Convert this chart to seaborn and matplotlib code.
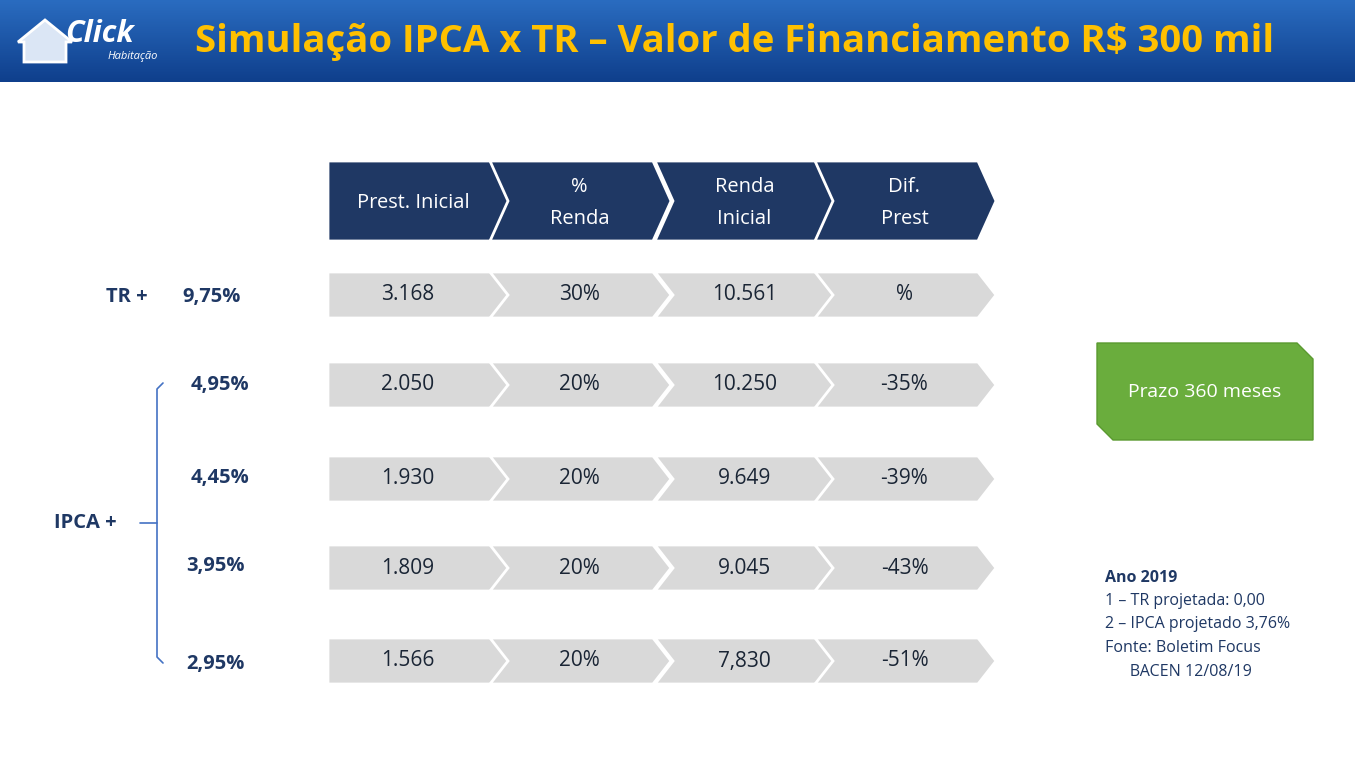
import matplotlib
matplotlib.use("Agg")
import matplotlib.pyplot as plt
import seaborn as sns
import numpy as np
from matplotlib.patches import Polygon

sns.set_theme(style="white")

title = "Simulação IPCA x TR – Valor de Financiamento R$ 300 mil"
headers = ["Prest. Inicial", "%\nRenda", "Renda\nInicial", "Dif.\nPrest"]
rates = ["9,75%", "4,95%", "4,45%", "3,95%", "2,95%"]
prest = ["3.168", "2.050", "1.930", "1.809", "1.566"]
pct_renda = ["30%", "20%", "20%", "20%", "20%"]
renda = ["10.561", "10.250", "9.649", "9.045", "7,830"]
dif = ["%", "-35%", "-39%", "-43%", "-51%"]
notes = ["1 – TR projetada: 0,00", "2 – IPCA projetado 3,76%", "Fonte: Boletim Focus", "      BACEN 12/08/19"]

W, H = 1355, 768
fig = plt.figure(figsize=(W/100, H/100), dpi=100)
ax = fig.add_axes([0, 0, 1, 1])
ax.set_xlim(0, W); ax.set_ylim(H, 0); ax.axis("off")
FONT = "Open Sans"
navy = "#1F3864"

grad = np.linspace(0, 1, 100)[:, None]
ax.imshow(grad, extent=[0, W, 82, 0], cmap=matplotlib.colors.LinearSegmentedColormap.from_list("b", ["#2a6cc0", "#0f3f8c"]), aspect="auto", zorder=0)
ax.text(735, 42, title, color="#FFC000", fontsize=27.5, fontweight="bold", ha="center", va="center", family=FONT)
ax.add_patch(Polygon([[18, 42], [45, 20], [72, 42], [66, 42], [66, 62], [24, 62], [24, 42]], closed=True, fc="#dbe6f5", ec="white", lw=2, zorder=2))
ax.text(100, 34, "Click", color="white", fontsize=22, fontweight="bold", style="italic", ha="center", va="center", family=FONT, zorder=3)
ax.text(133, 57, "Habitação", color="white", fontsize=8, style="italic", ha="center", va="center", family=FONT)

starts = [328, 490, 655, 815]
wid, tip = 163, 18

def chevron(x0, yc, h, color, first):
    y0, y1 = yc - h/2, yc + h/2
    pts = [[x0, y0], [x0+wid, y0], [x0+wid+tip, yc], [x0+wid, y1], [x0, y1]]
    if not first:
        pts.append([x0+tip, yc])
    ax.add_patch(Polygon(pts, closed=True, fc=color, ec="white", lw=2, zorder=2))

for i, hd in enumerate(headers):
    chevron(starts[i], 201, 80, navy, i == 0)
    ax.text(starts[i] + wid/2 + (8 if i else 4), 203, hd, color="white", fontsize=14.5,
            ha="center", va="center", family=FONT, linespacing=1.75, zorder=3)

row_y = [295, 385, 479, 568, 661]
for r, yc in enumerate(row_y):
    vals = [prest[r], pct_renda[r], renda[r], dif[r]]
    for i, v in enumerate(vals):
        chevron(starts[i], yc, 46, "#D9D9D9", i == 0)
        ax.text(starts[i] + wid/2 + (8 if i else -2), yc, v, color="#1a2535", fontsize=15,
                ha="center", va="center", family=FONT, zorder=3)

kw = dict(color=navy, fontsize=14.5, fontweight="bold", ha="center", va="center", family=FONT)
ax.text(127, 297, "TR +", **kw)
ax.text(212, 297, rates[0], **kw)
for r, xr, yr in zip(rates[1:], [220, 220, 215, 215], [385, 478, 566, 664]):
    ax.text(xr, yr, r, **kw)
ax.text(85, 523, "IPCA +", **kw)
ax.plot([163, 157, 157, 163], [383, 389, 657, 663], color="#4472C4", lw=1.2)
ax.plot([140, 157], [523, 523], color="#4472C4", lw=1.2)

gp = [[1097, 343], [1297, 343], [1313, 359], [1313, 440], [1113, 440], [1097, 424]]
ax.add_patch(Polygon(gp, closed=True, fc="#6AAD3D", ec="#5a9a30", lw=1, zorder=2))
ax.text(1205, 392, "Prazo 360 meses", color="white", fontsize=14, ha="center", va="center", family=FONT, zorder=3)

ax.text(1105, 578, "Ano 2019", color=navy, fontsize=11.5, fontweight="bold", ha="left", va="center", family=FONT)
for k, n in enumerate(notes):
    ax.text(1105, 601 + k*23.5, n, color=navy, fontsize=11.5, ha="left", va="center", family=FONT)

fig.savefig("out.png", dpi=100, facecolor="white")
